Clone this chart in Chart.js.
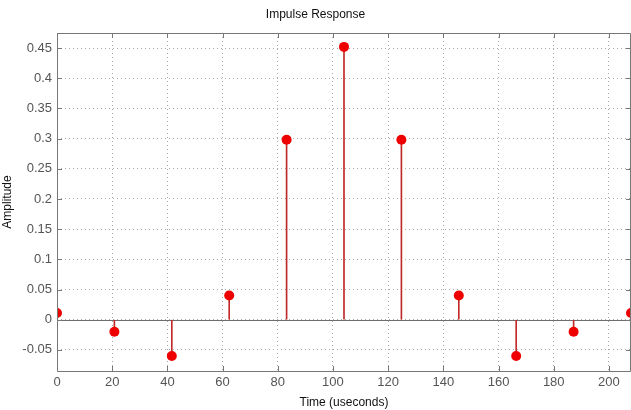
<!DOCTYPE html>
<html>
<head>
<meta charset="utf-8">
<title>Impulse Response</title>
<script src="https://cdn.jsdelivr.net/npm/chart.js@4.4.1/dist/chart.umd.min.js"></script>
<style>
  html, body { margin: 0; padding: 0; background: #fff; }
  #wrap { width: 631px; height: 410px; }
</style>
</head>
<body>
<div id="wrap"><canvas id="grafico"></canvas></div>
<script>
// datos
const tiempos = [0, 20.8, 41.6, 62.4, 83.2, 104, 124.8, 145.6, 166.4, 187.2, 208];
const amplitudes = [0.011, -0.02, -0.06, 0.04, 0.298, 0.452, 0.298, 0.04, -0.06, -0.02, 0.011];
const ticksX = [0, 20, 40, 60, 80, 100, 120, 140, 160, 180, 200];
const ticksY = [-0.05, 0, 0.05, 0.1, 0.15, 0.2, 0.25, 0.3, 0.35, 0.4, 0.45];

const fuente = "'Liberation Sans Narrow', 'Liberation Sans', Arial, sans-serif";
const puntos = tiempos.map((t, i) => ({ x: t, y: amplitudes[i] }));

// caja de ejes, linea base y marcas hacia adentro (estilo matlab)
const cajaMatlab = {
  id: 'cajaMatlab',
  beforeDatasetsDraw(chart) {
    const { ctx, chartArea: a, scales } = chart;
    const y0 = scales.y.getPixelForValue(0);
    ctx.save();
    ctx.strokeStyle = '#6e6e6e';
    ctx.lineWidth = 1;
    ctx.beginPath();
    ctx.moveTo(a.left, Math.round(y0) + 0.5);
    ctx.lineTo(a.right, Math.round(y0) + 0.5);
    ctx.stroke();
    ctx.restore();
  },
  afterDraw(chart) {
    const { ctx, chartArea: a, scales } = chart;
    ctx.save();
    ctx.strokeStyle = '#777';
    ctx.lineWidth = 1;
    ctx.beginPath();
    ctx.moveTo(a.left + 0.5, a.bottom + 0.5);
    ctx.lineTo(a.left + 0.5, a.top + 0.5);
    ctx.lineTo(a.right - 0.5, a.top + 0.5);
    ctx.lineTo(a.right - 0.5, a.bottom + 0.5);
    ctx.lineTo(a.left + 0.5, a.bottom + 0.5);
    ticksX.forEach(v => {
      const px = Math.round(scales.x.getPixelForValue(v)) + 0.5;
      ctx.moveTo(px, a.bottom); ctx.lineTo(px, a.bottom - 5);
      ctx.moveTo(px, a.top); ctx.lineTo(px, a.top + 5);
    });
    ticksY.forEach(v => {
      const py = Math.round(scales.y.getPixelForValue(v)) + 0.5;
      ctx.moveTo(a.left, py); ctx.lineTo(a.left + 5, py);
      ctx.moveTo(a.right, py); ctx.lineTo(a.right - 5, py);
    });
    ctx.stroke();
    ctx.restore();
  }
};

new Chart(document.getElementById('grafico'), {
  data: {
    datasets: [
      {
        type: 'bar',
        data: puntos,
        backgroundColor: '#c0282a',
        borderWidth: 0,
        barThickness: 1,
        order: 2
      },
      {
        type: 'scatter',
        data: puntos,
        pointRadius: 5,
        pointHoverRadius: 5,
        pointBackgroundColor: '#ee0000',
        pointBorderColor: '#ee0000',
        pointBorderWidth: 0,
        order: 1
      }
    ]
  },
  options: {
    responsive: true,
    maintainAspectRatio: false,
    animation: false,
    layout: { padding: 0, autoPadding: false },
    plugins: {
      legend: { display: false },
      tooltip: { enabled: false },
      title: {
        display: true,
        text: 'Impulse Response',
        color: '#111',
        font: { family: fuente, size: 12, weight: 'normal', lineHeight: 1 },
        padding: { top: 9, bottom: 12 }
      }
    },
    scales: {
      x: {
        type: 'linear',
        min: 0,
        max: 208,
        offset: false,
        afterFit(s) { s.height = 39; s.paddingLeft = 0; s.paddingRight = 0; },
        afterBuildTicks(s) { s.ticks = ticksX.map(v => ({ value: v })); },
        ticks: {
          color: '#555',
          font: { family: fuente, size: 13 },
          padding: 4,
          maxRotation: 0
        },
        grid: { color: '#aaa', drawTicks: false, lineWidth: 1, offset: false },
        border: { display: false, dash: [1, 3] },
        title: {
          display: true,
          text: 'Time (useconds)',
          color: '#111',
          font: { family: fuente, size: 12 },
          padding: { top: 0, bottom: 0 }
        }
      },
      y: {
        type: 'linear',
        min: -0.085,
        max: 0.475,
        afterFit(s) { s.width = 57; },
        afterBuildTicks(s) { s.ticks = ticksY.map(v => ({ value: v })); },
        ticks: {
          color: '#555',
          font: { family: fuente, size: 13 },
          padding: 5,
          callback: v => String(Math.round(v * 100) / 100)
        },
        grid: { color: '#aaa', drawTicks: false, lineWidth: 1 },
        border: { display: false, dash: [1, 3] },
        title: {
          display: true,
          text: 'Amplitude',
          color: '#111',
          font: { family: fuente, size: 12 },
          padding: { top: 0, bottom: 4 }
        }
      }
    }
  },
  plugins: [cajaMatlab]
});
</script>
</body>
</html>
